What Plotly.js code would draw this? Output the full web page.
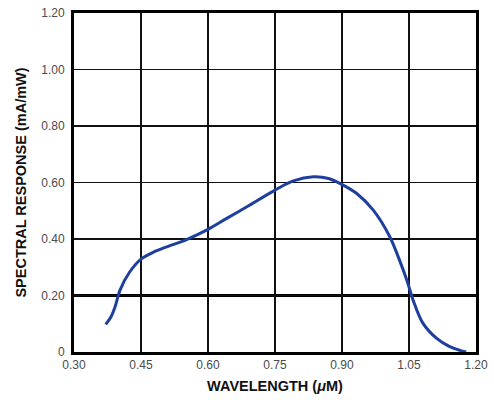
<!DOCTYPE html>
<html><head><meta charset="utf-8">
<script src="https://cdn.plot.ly/plotly-3.0.1.min.js"></script>
<style>html,body{margin:0;padding:0;background:#fff;}#chart{width:494px;height:400px;}</style>
</head><body><div id="chart"></div>
<script>
const wavelength = [0.371, 0.383, 0.392, 0.403, 0.425, 0.450, 0.480, 0.507, 0.552, 0.600, 0.642, 0.687, 0.752, 0.791, 0.836, 0.870, 0.895, 0.933, 0.970, 1.007, 1.030, 1.045, 1.060, 1.080, 1.112, 1.140, 1.164, 1.178];
const response   = [0.098, 0.125, 0.160, 0.219, 0.284, 0.329, 0.355, 0.372, 0.398, 0.434, 0.473, 0.514, 0.575, 0.606, 0.620, 0.614, 0.597, 0.561, 0.502, 0.408, 0.320, 0.255, 0.180, 0.105, 0.048, 0.020, 0.006, 0.0];
const xTickVals = [0.30, 0.45, 0.60, 0.75, 0.90, 1.05, 1.20];
const xTickText = ["0.30", "0.45", "0.60", "0.75", "0.90", "1.05", "1.20"];
const yTickVals = [0, 0.2, 0.4, 0.6, 0.8, 1.0, 1.2];
const yTickText = ["0", "0.20", "0.40", "0.60", "0.80", "1.00", "1.20"];

const tickFont = {family: "'Liberation Sans Narrow', 'Arial Narrow', 'Liberation Sans', Arial, sans-serif", size: 12, color: "#4a4a4a"};
const titleFont = {family: "'Liberation Sans', Arial, sans-serif", size: 14.5, color: "#111", weight: "bold"};

Plotly.newPlot("chart", [{
  x: wavelength, y: response, type: "scatter", mode: "lines",
  line: {color: "#1f3f9e", width: 3, shape: "spline", smoothing: 0.9},
  hoverinfo: "skip"
}], {
  width: 494, height: 400,
  margin: {l: 74, r: 18, t: 13, b: 48},
  paper_bgcolor: "#fff", plot_bgcolor: "#fff",
  showlegend: false,
  xaxis: {
    range: [0.30, 1.20], tickvals: xTickVals, ticktext: xTickText,
    showgrid: true, gridcolor: "#111", gridwidth: 1.6,
    showline: true, linecolor: "#000", linewidth: 3, mirror: true,
    zeroline: false, ticks: "", tickfont: tickFont, ticklen: 0,
    title: {text: "<b>WAVELENGTH (<i>μ</i>M)</b>", font: titleFont, standoff: 10}
  },
  yaxis: {
    range: [0, 1.20], tickvals: yTickVals, ticktext: yTickText,
    showgrid: true, gridcolor: "#111", gridwidth: 1.6,
    showline: true, linecolor: "#000", linewidth: 3, mirror: true,
    zeroline: false, ticks: "", tickfont: tickFont, ticklabelstandoff: 4,
    title: {text: "<b>SPECTRAL RESPONSE (mA/mW)</b>", font: titleFont, standoff: 12}
  },
  shapes: [{type: "line", xref: "paper", x0: 0, x1: 1, yref: "y", y0: yTickVals[1], y1: yTickVals[1], line: {color: "#000", width: 3}, layer: "below"}]
}, {staticPlot: true});
</script></body></html>
